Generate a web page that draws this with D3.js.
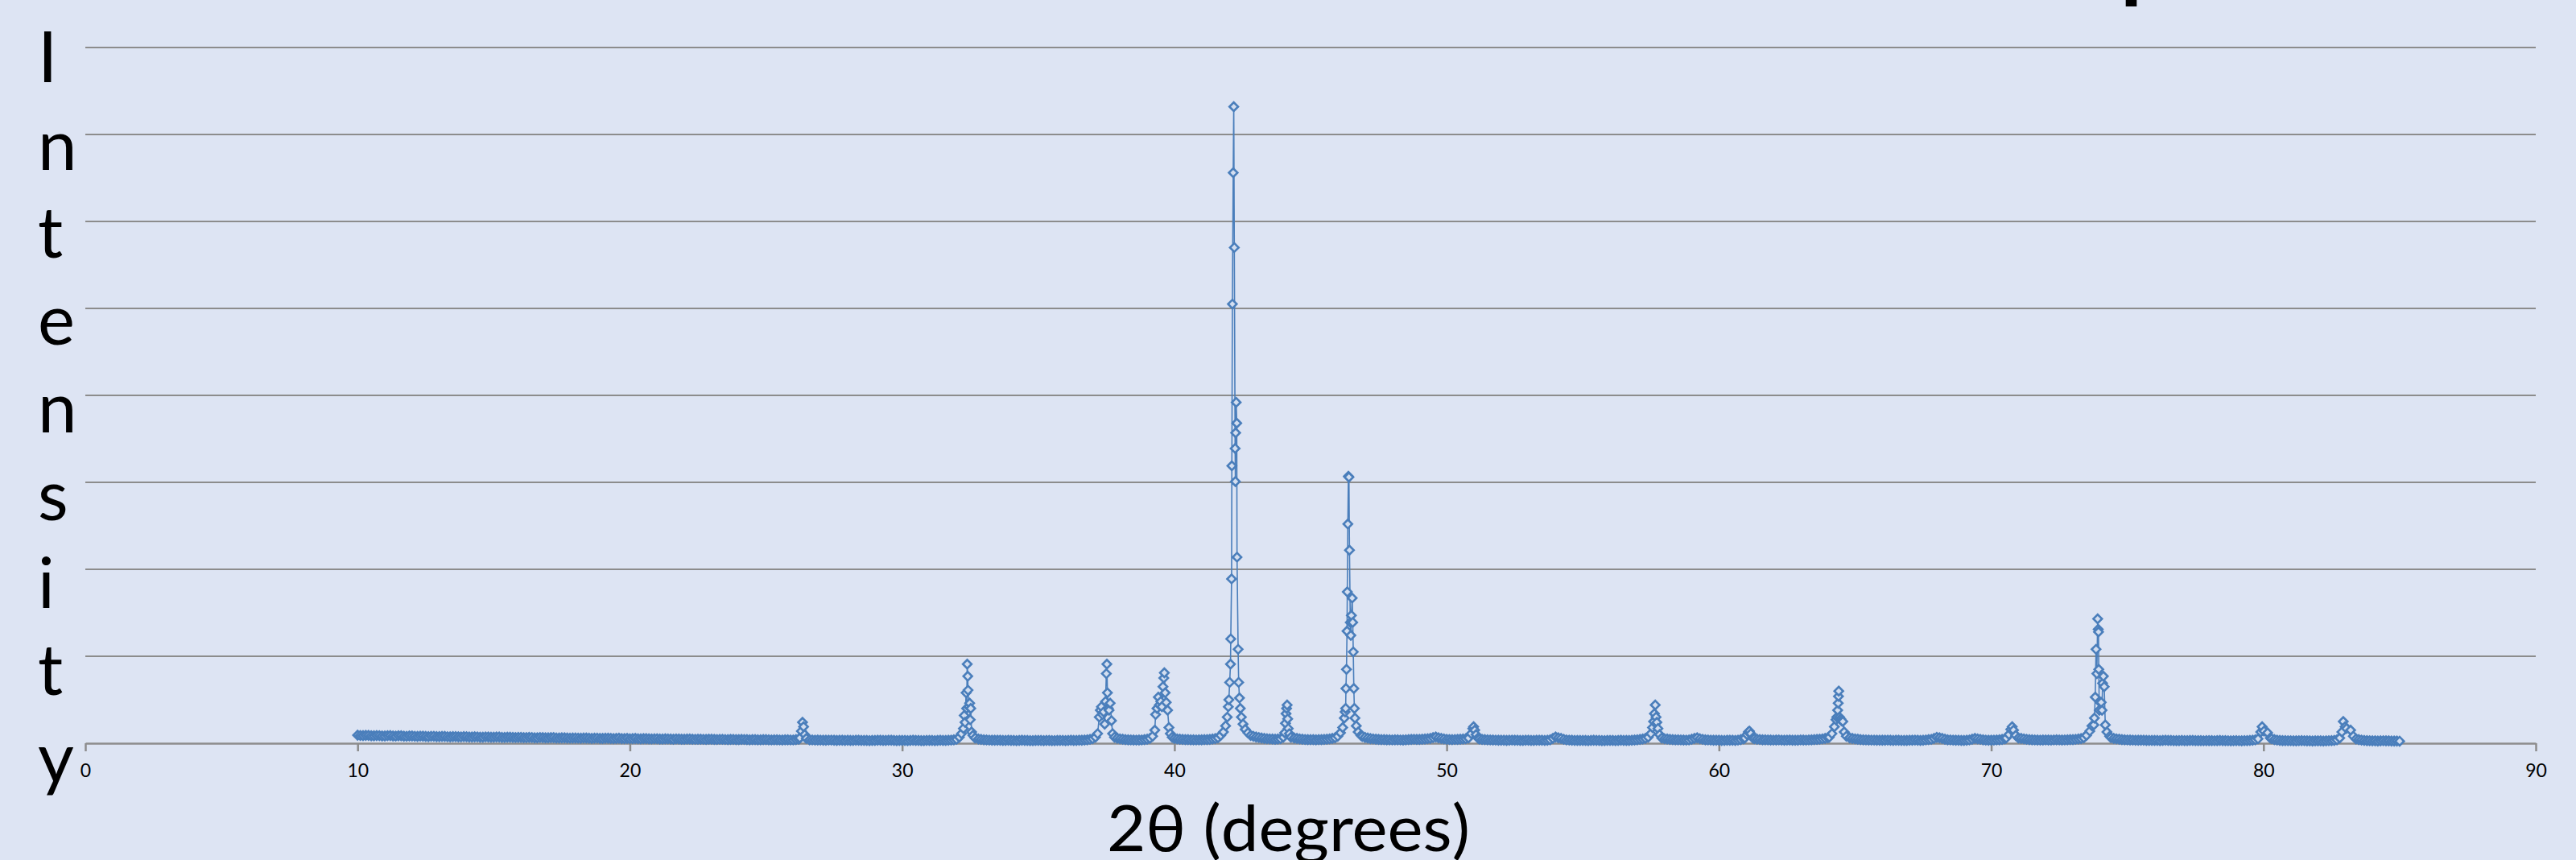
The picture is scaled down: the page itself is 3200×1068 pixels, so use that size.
<!DOCTYPE html>
<html>
<head>
<meta charset="utf-8">
<script src="https://cdn.jsdelivr.net/npm/d3@7"></script>
<style>
  html, body { margin: 0; padding: 0; background: #dde4f3; }
  svg { display: block; }
</style>
</head>
<body>
<div id="chart"></div>
<script>
// ---- data ----
const xTicks = [0, 10, 20, 30, 40, 50, 60, 70, 80, 90];
const gridValues = [1000, 2000, 3000, 4000, 5000, 6000, 7000, 8000];
const yLetters = ["I", "n", "t", "e", "n", "s", "i", "t", "y"];
const xTitle = "2θ (degrees)";
const chartTitle = "XRD Pattern of Sample";

// background of the scan, one count every 0.1 deg from 10.0 to 85.0
// null = that spot is covered by one of the peak lists below
const bgStart = 10;
const bgStep = 0.1;
const background = [
  92, 89, 88, 91, 90, 86, 85, 88, 87, 84, // 10
  84, 87, 88, 83, 82, 86, 85, 81, 80, 83, // 11
  83, 80, 79, 82, 81, 78, 77, 80, 80, 77, // 12
  76, 79, 78, 75, 74, 77, 77, 74, 73, 76, // 13
  75, 72, 71, 74, 73, 70, 70, 73, 72, 69, // 14
  69, 72, 71, 68, 67, 70, 70, 67, 66, 68, // 15
  68, 65, 64, 67, 66, 63, 63, 66, 65, 62, // 16
  62, 65, 64, 61, 60, 63, 63, 60, 59, 61, // 17
  61, 59, 58, 60, 60, 57, 56, 59, 59, 56, // 18
  55, 58, 58, 55, 54, 56, 57, 54, 53, 55, // 19
  52, 54, 55, 52, 51, 53, 53, 51, 50, 52, // 20
  52, 49, 48, 51, 50, 48, 47, 50, 49, 47, // 21
  46, 49, 48, 46, 45, 47, 47, 45, 44, 46, // 22
  46, 44, 43, 45, 45, 43, 42, 44, 44, 42, // 23
  41, 44, 43, 41, 40, 42, 42, 40, 39, 41, // 24
  41, 39, 38, 40, 40, 38, 37, 39, 39, 38, // 25
  38, 42, 45, null, null, null, 40, 38, 36, 37, // 26
  36, 35, 34, 36, 36, 34, 33, 35, 35, 33, // 27
  34, 33, 32, 34, 35, 33, 33, 32, 31, 33, // 28
  33, 35, 35, 33, 32, 34, 34, 32, 31, 33, // 29
  33, 32, 31, 33, 34, 32, 32, 31, 30, 32, // 30
  33, 32, 31, 33, 34, 33, 32, 34, 36, 40, // 31
  45, null, null, null, null, null, null, null, 48, 44, // 32
  40, 38, 36, 35, 34, 35, 35, 33, 32, 34, // 33
  33, 32, 31, 33, 34, 33, 32, 31, 30, 32, // 34
  33, 32, 31, 32, 32, 31, 30, 32, 33, 32, // 35
  31, 33, 34, 33, 32, 34, 35, 37, 40, 45, // 36
  52, null, null, null, null, null, null, null, null, 58, // 37
  50, 46, 42, 40, 38, 37, 36, 37, 38, 41, // 38
  46, 55, null, null, null, null, null, null, null, null, // 39
  55, 50, 46, 44, 42, 41, 40, 39, 38, 39, // 40
  40, 41, 42, 44, 48, 54, 62, null, null, null, // 41
  null, null, null, null, null, null, null, null, null, 80, // 42
  72, 66, 60, 56, 52, 50, 48, 47, 48, 52, // 43
  null, null, null, null, 60, 55, 50, 46, 43, 42, // 44
  42, 41, 40, 41, 42, 44, 46, 50, 55, 62, // 45
  null, null, null, null, null, null, null, null, null, 78, // 46
  68, 60, 54, 50, 47, 44, 42, 41, 40, 39, // 47
  38, 39, 40, 38, 37, 40, 42, 44, 45, 44, // 48
  44, 46, 48, 52, 56, 64, 72, 62, 55, 50, // 49
  45, 43, 42, 43, 44, 46, 48, 52, null, null, // 50
  null, null, 48, 44, 42, 40, 38, 37, 36, 35, // 51
  35, 34, 33, 35, 36, 35, 34, 33, 32, 34, // 52
  34, 33, 32, 34, 35, 34, 33, 35, 40, 55, // 53
  72, 62, 55, 45, 38, 36, 34, 33, 32, 33, // 54
  33, 32, 31, 33, 34, 33, 32, 31, 30, 32, // 55
  33, 32, 31, 33, 34, 33, 32, 33, 35, 37, // 56
  40, 44, 48, 55, null, null, null, null, null, null, // 57
  52, 48, 44, 42, 40, 39, 38, 37, 36, 38, // 58
  46, 55, 62, 52, 45, 40, 38, 36, 35, 34, // 59
  34, 33, 32, 34, 35, 34, 33, 36, 42, 50, // 60
  null, null, null, 52, 46, 43, 40, 39, 38, 37, // 61
  36, 37, 38, 36, 35, 36, 37, 35, 34, 35, // 62
  38, 37, 36, 38, 40, 42, 44, 47, 50, 55, // 63
  62, null, null, null, null, null, null, null, 62, 55, // 64
  50, 46, 42, 40, 38, 37, 36, 36, 35, 34, // 65
  34, 35, 36, 34, 33, 34, 35, 33, 32, 33, // 66
  34, 35, 36, 34, 33, 35, 38, 42, 45, 55, // 67
  68, 62, 55, 46, 40, 38, 36, 35, 34, 33, // 68
  33, 35, 38, 46, 56, 50, 45, 40, 36, 35, // 69
  35, 36, 38, 40, 44, 50, null, null, null, null, // 70
  null, 56, 50, 45, 42, 40, 38, 37, 36, 37, // 71
  38, 37, 36, 38, 39, 38, 37, 38, 40, 41, // 72
  42, 45, 48, 54, 62, null, null, null, null, null, // 73
  null, null, null, null, 65, 56, 50, 46, 42, 40, // 74
  38, 37, 36, 35, 34, 35, 35, 33, 32, 33, // 75
  33, 32, 31, 33, 34, 33, 32, 31, 30, 31, // 76
  32, 31, 30, 32, 33, 31, 31, 30, 29, 30, // 77
  31, 30, 29, 31, 32, 30, 30, 29, 28, 29, // 78
  30, 29, 28, 30, 31, 32, 34, 40, null, null, // 79
  null, null, null, 52, 42, 36, 32, 31, 30, 29, // 80
  29, 28, 27, 29, 30, 29, 28, 27, 26, 27, // 81
  28, 27, 26, 28, 29, 30, 33, 40, null, null, // 82
  null, null, null, null, 48, 42, 36, 33, 30, 29, // 83
  28, 27, 26, 28, 29, 28, 27, 26, 25, 25, // 84
  24                                      // 85
];

// peaks: [2theta, counts]
const peak26 = [[26.24, 60], [26.30, 140], [26.34, 240], [26.38, 190], [26.42, 100], [26.48, 55]];
const peak32 = [[32.10, 70], [32.18, 110], [32.25, 170], [32.28, 320], [32.31, 240], [32.35, 580],
  [32.37, 400], [32.39, 910], [32.41, 770], [32.42, 610], [32.45, 420], [32.48, 460],
  [32.50, 270], [32.52, 400], [32.55, 130], [32.60, 90], [32.68, 60]];
const peak37 = [[37.10, 70], [37.18, 110], [37.24, 300], [37.28, 380], [37.32, 420], [37.36, 330],
  [37.40, 360], [37.44, 220], [37.47, 480], [37.50, 800], [37.52, 910], [37.54, 580],
  [37.57, 400], [37.60, 380], [37.64, 460], [37.69, 260], [37.73, 110], [37.80, 70]];
const peak39 = [[39.20, 80], [39.28, 150], [39.31, 330], [39.36, 400], [39.41, 530], [39.45, 440],
  [39.50, 480], [39.54, 420], [39.58, 650], [39.61, 750], [39.63, 810], [39.66, 580],
  [39.70, 470], [39.75, 380], [39.80, 180], [39.85, 110], [39.92, 70]];
const peak42 = [[41.70, 90], [41.80, 130], [41.88, 200], [41.94, 300], [41.98, 420], [42.00, 500],
  [42.03, 700], [42.06, 910], [42.07, 1200], [42.10, 1890], [42.11, 3190], [42.13, 5050],
  [42.16, 6560], [42.18, 7320], [42.20, 5700], [42.23, 3390], [42.24, 3010], [42.25, 3570],
  [42.27, 3920], [42.29, 3680], [42.30, 2140], [42.34, 1080], [42.36, 700], [42.39, 520],
  [42.42, 400], [42.46, 300], [42.52, 220], [42.60, 160], [42.70, 120], [42.80, 90]];
const peak44 = [[44.00, 70], [44.05, 120], [44.08, 230], [44.10, 340], [44.12, 400], [44.14, 440],
  [44.16, 280], [44.18, 170], [44.22, 110], [44.28, 70]];
const peak46 = [[46.00, 80], [46.10, 120], [46.18, 180], [46.24, 290], [46.27, 360], [46.29, 400],
  [46.30, 630], [46.32, 850], [46.34, 1290], [46.35, 1740], [46.37, 2520], [46.39, 3070],
  [46.41, 3060], [46.43, 2220], [46.46, 1390], [46.48, 1240], [46.50, 1470], [46.53, 1670],
  [46.55, 1390], [46.57, 1050], [46.59, 630], [46.61, 400], [46.63, 290], [46.68, 200],
  [46.75, 130], [46.85, 90]];
const peak51 = [[50.80, 60], [50.90, 110], [50.96, 170], [50.99, 190], [51.03, 150], [51.08, 100], [51.15, 60]];
const peak57 = [[57.40, 70], [57.50, 110], [57.56, 180], [57.60, 250], [57.63, 340], [57.66, 440],
  [57.69, 300], [57.72, 240], [57.76, 170], [57.82, 100], [57.90, 60]];
const peak61 = [[60.95, 60], [61.03, 100], [61.08, 130], [61.12, 140], [61.17, 110], [61.25, 60]];
const peak64 = [[64.05, 70], [64.15, 110], [64.24, 190], [64.30, 270], [64.33, 300], [64.36, 380],
  [64.38, 460], [64.39, 540], [64.40, 600], [64.43, 300], [64.47, 280], [64.50, 260],
  [64.55, 250], [64.60, 130], [64.68, 80]];
const peak70 = [[70.55, 60], [70.65, 100], [70.72, 160], [70.77, 190], [70.82, 150], [70.90, 90], [71.00, 60]];
const peak74 = [[73.50, 90], [73.62, 140], [73.70, 200], [73.77, 210], [73.79, 290], [73.82, 530],
  [73.85, 1080], [73.88, 800], [73.91, 1430], [73.93, 1310], [73.94, 1280], [73.95, 850],
  [73.97, 380], [74.00, 470], [74.04, 470], [74.07, 380], [74.09, 690], [74.12, 770],
  [74.15, 650], [74.19, 210], [74.25, 130], [74.35, 80]];
const peak80 = [[79.80, 50], [79.90, 130], [79.95, 190], [80.02, 140], [80.15, 120], [80.25, 60]];
const peak83 = [[82.80, 60], [82.88, 130], [82.93, 250], [83.00, 190], [83.05, 170], [83.20, 150], [83.30, 80]];

const peaks = [peak26, peak32, peak37, peak39, peak42, peak44, peak46, peak51,
  peak57, peak61, peak64, peak70, peak74, peak80, peak83];

// ---- build the series ----
let points = [];
background.forEach((v, i) => {
  if (v !== null) points.push([Math.round((bgStart + i * bgStep) * 100) / 100, v]);
});
peaks.forEach((p) => (points = points.concat(p)));
points.sort((a, b) => a[0] - b[0]);

const width = 3200;
const height = 1068;
const gray = "#8c8c8c";
const blue = "#4a7ebb";
const font = "Lato, 'Open Sans', sans-serif";

const svg = d3
  .select("#chart")
  .append("svg")
  .attr("width", width)
  .attr("height", height);

svg.append("rect").attr("width", width).attr("height", height).attr("fill", "#dde4f3");

const x = d3.scaleLinear().domain([0, 90]).range([106, 3150]);
const y = d3.scaleLinear().domain([0, 8000]).range([923, 59]);

// title sits mostly above the page, only a descender shows
const title = svg
  .append("text")
  .attr("x", 1200)
  .attr("y", -10)
  .style("font-family", font)
  .style("font-weight", 700)
  .style("font-size", "110px")
  .attr("fill", "#000")
  .text(chartTitle);
const pIndex = chartTitle.indexOf("p");
const pX = title.node().getStartPositionOfChar(pIndex).x;
title.attr("x", 1200 + (2634 - pX));

// gridlines
svg
  .append("g")
  .selectAll("line")
  .data(gridValues)
  .join("line")
  .attr("x1", x(0))
  .attr("x2", x(90))
  .attr("y1", (d) => y(d))
  .attr("y2", (d) => y(d))
  .attr("stroke", gray)
  .attr("stroke-width", 2);

// x axis
const xAxis = svg
  .append("g")
  .attr("transform", `translate(0,${y(0)})`)
  .call(d3.axisBottom(x).tickValues(xTicks).tickSize(10).tickSizeOuter(0));
xAxis.select(".domain").attr("stroke", gray).attr("stroke-width", 2.5);
xAxis.selectAll(".tick line").attr("stroke", gray).attr("stroke-width", 2.5);
xAxis
  .selectAll(".tick text")
  .attr("y", 42)
  .attr("dy", 0)
  .attr("fill", "#000")
  .style("font-family", font)
  .style("font-size", "23px");

// series line and markers
const line = d3
  .line()
  .x((d) => x(d[0]))
  .y((d) => y(d[1]));

svg
  .append("path")
  .datum(points)
  .attr("d", line)
  .attr("fill", "none")
  .attr("stroke", blue)
  .attr("stroke-width", 1.6);

const diamond = d3.symbol(d3.symbolSquare, 58);
svg
  .append("g")
  .selectAll("path")
  .data(points)
  .join("path")
  .attr("transform", (d) => `translate(${x(d[0])},${y(d[1])}) rotate(45)`)
  .attr("d", diamond)
  .attr("fill", "#d3def0")
  .attr("stroke", blue)
  .attr("stroke-width", 2.6);

// y title, one letter per line
svg
  .append("g")
  .selectAll("text")
  .data(yLetters)
  .join("text")
  .attr("x", 47)
  .attr("y", (d, i) => 102 + i * 108.75)
  .style("font-family", font)
  .style("font-size", "87px")
  .attr("fill", "#000")
  .text((d) => d);

// x title
svg
  .append("text")
  .attr("x", 1375)
  .attr("y", 1057)
  .attr("textLength", 451)
  .attr("lengthAdjust", "spacingAndGlyphs")
  .style("font-family", font)
  .style("font-size", "80px")
  .attr("fill", "#000")
  .text(xTitle);
</script>
</body>
</html>
